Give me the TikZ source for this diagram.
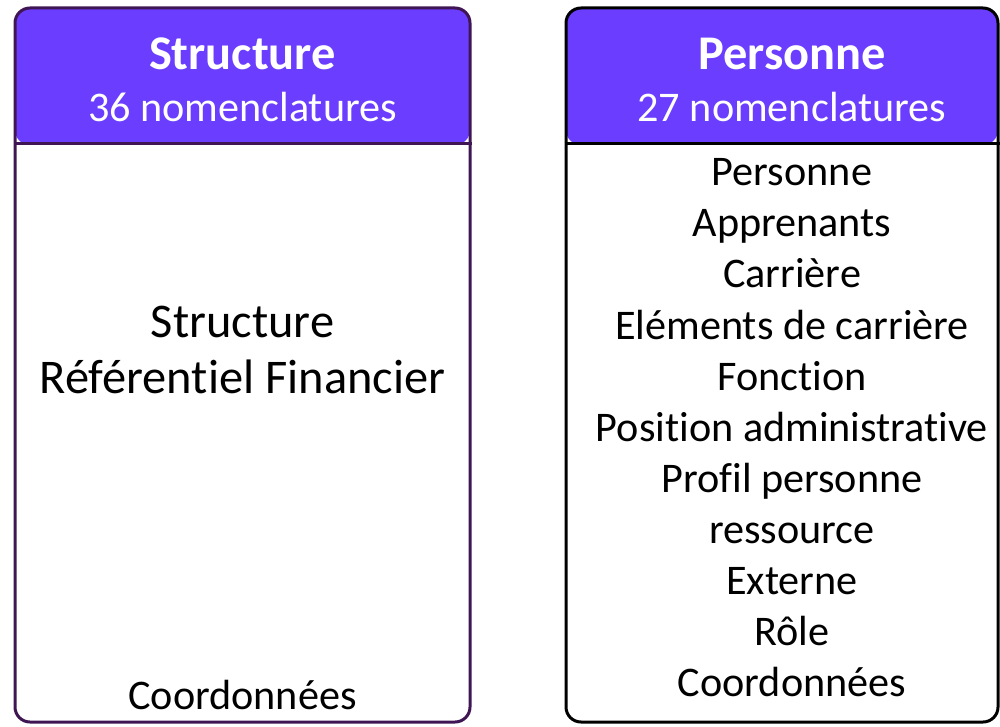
\documentclass[tikz,border=0pt]{standalone}
\usepackage{fontspec}
\setmainfont{Carlito}[Ligatures=NoCommon]
\usetikzlibrary{positioning}
\definecolor{headcol}{HTML}{6B3DFF}
\definecolor{structcol}{HTML}{3F1653}

\begin{document}
\begin{tikzpicture}[x=0.5pt, y=-0.5pt,
  card/.style={draw, line width=1.5pt, rounded corners=7.5pt, inner sep=0pt,
               minimum height=357pt,
               path picture={\fill[headcol] (path picture bounding box.north west)
                 rectangle ([yshift=-68.5pt]path picture bounding box.north east);}},
  title/.style={font=\fontsize{24.2}{29}\selectfont\bfseries, text=white,
                anchor=base, inner sep=0pt},
  count/.style={font=\fontsize{21.1}{25.6}\selectfont, text=white,
                anchor=base, inner sep=0pt},
  entry/.style={font=\fontsize{21.1}{25.6}\selectfont, anchor=base, inner sep=0pt},
  bigentry/.style={entry, font=\fontsize{24.2}{29}\selectfont}]

  \useasboundingbox (0,0) rectangle (1000,727);

  % cards
  \node[card, draw=structcol, minimum width=227.5pt] (struct) at (242.5,365) {};
  \node[card, draw=black, minimum width=216pt] (pers) at (782,365) {};
  \draw[structcol, line width=1.5pt] ([yshift=-68.5pt]struct.north west) -- ([yshift=-68.5pt]struct.north east);
  \draw[black, line width=1.5pt] ([yshift=-68.5pt]pers.north west) -- ([yshift=-68.5pt]pers.north east);

  % Structure
  \node[title] (structtitle) at (242.5,70) {Structure};
  \node[count] (structcount) at (242.5,122) {36 nomenclatures};
  \node[bigentry] (structmain) at (242.5,337.5) {Structure};
  \node[bigentry] (structref) at (242.5,393.5) {Référentiel Financier};
  \node[entry] (structcoord) at (242.5,709) {Coordonnées};

  % Personne
  \node[title] (perstitle) at (792,70) {Personne};
  \node[count] (perscount) at (792,122) {27 nomenclatures};
  \foreach \lbl [count=\i] in {Personne, Apprenants, Carrière, Eléments de carrière,
      Fonction, Position administrative, Profil personne, ressource, Externe,
      Rôle, Coordonnées}
    \node[entry] (pers\i) at (792, 134.6+51.1*\i) {\lbl};
\end{tikzpicture}
\end{document}
